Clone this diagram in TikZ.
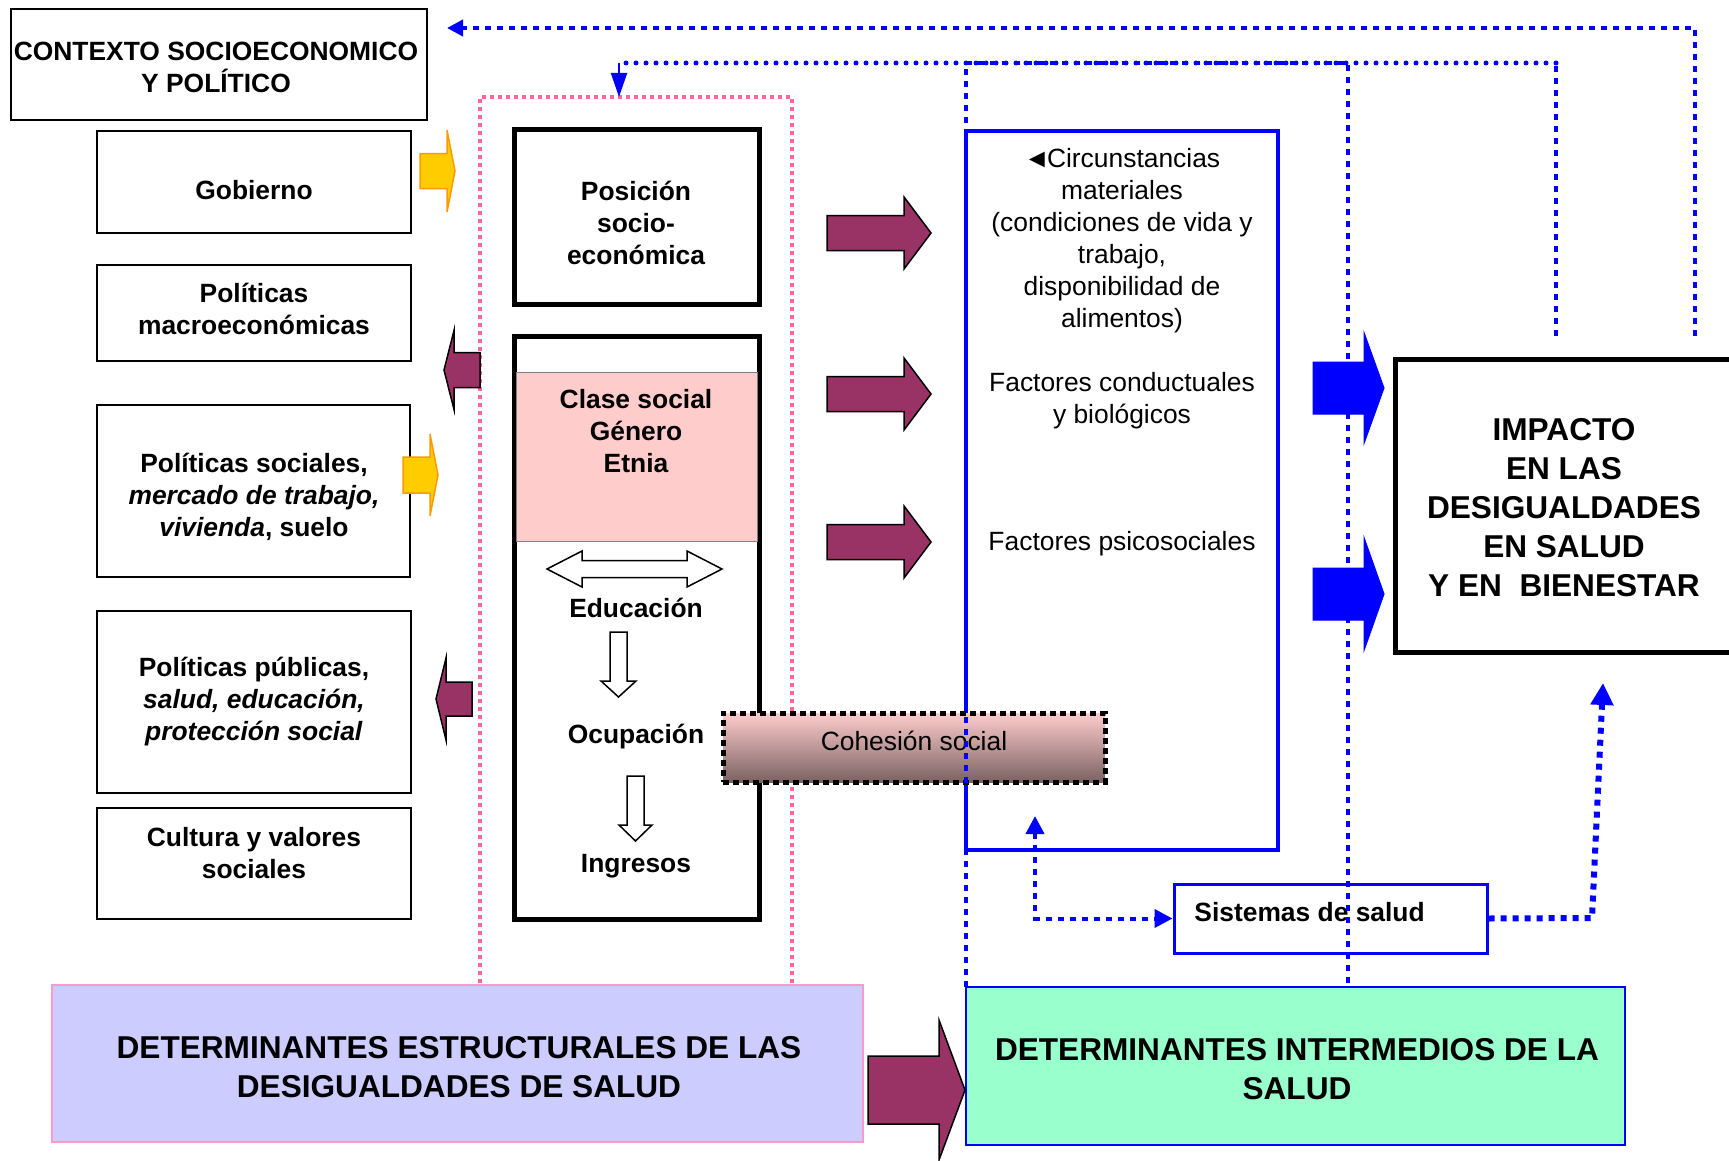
\documentclass[tikz,border=0pt]{standalone}
\usepackage{fontspec}
\setmainfont{Liberation Sans}
\usetikzlibrary{fit,arrows.meta}

\definecolor{morado}{RGB}{153,51,102}
\definecolor{amarillo}{RGB}{255,204,0}
\definecolor{naranja}{RGB}{255,153,0}
\definecolor{rosa}{RGB}{255,102,153}
\definecolor{rosaclaro}{RGB}{255,204,204}
\definecolor{lavanda}{RGB}{204,204,255}
\definecolor{bordelav}{RGB}{255,153,204}
\definecolor{verdeagua}{RGB}{153,255,204}
\definecolor{cafe}{RGB}{122,98,98}

% flecha de bloque: estilo, x cola, x base, x punta, y centro, medio cuerpo, media cabeza
\newcommand{\flechabloque}[7]{%
  \draw[#1] (#2,#5-#6) -- (#3,#5-#6) -- (#3,#5-#7) -- (#4,#5) -- (#3,#5+#7) -- (#3,#5+#6) -- (#2,#5+#6) -- cycle;}

\tikzset{
  texto/.style={font=\fontsize{13.2}{16}\selectfont, align=center, inner sep=0pt},
  negrita/.style={font=\fontsize{13.2}{16}\selectfont\bfseries, align=center, inner sep=0pt},
  negritagrande/.style={font=\fontsize{15.8}{19.5}\selectfont\bfseries, align=center, inner sep=0pt},
  caja/.style={draw, line width=1pt, inner sep=0pt},
  cajagruesa/.style={caja, line width=2.5pt},
  cajaazul/.style={draw=blue, line width=2.3pt, inner sep=0pt},
  cohesion/.style={draw=black, line width=2.5pt, dash pattern=on 3pt off 2pt, top color=rosaclaro, bottom color=cafe, inner sep=0pt},
  marcorosa/.style={draw=rosa, line width=2pt, dash pattern=on 2pt off 2pt},
  puntoazul/.style={draw=blue, line width=2pt, dash pattern=on 3pt off 3pt},
  bolitaazul/.style={draw=blue, line width=2.5pt, line cap=round, dash pattern=on 0pt off 5pt},
  flechamorada/.style={fill=morado, draw=black, line width=0.75pt},
  flechaamarilla/.style={fill=amarillo, draw=naranja, line width=0.75pt},
  flechaazul/.style={fill=blue, draw=blue, line width=0.5pt},
  hueca/.style={fill=white, draw=black, line width=0.75pt},
}

\begin{document}
\begin{tikzpicture}[x=0.5pt, y=-0.5pt]
\useasboundingbox (0,0) rectangle (1729,1161);

% Marco de los determinantes estructurales
\draw[marcorosa] (480,983) -- (480,97) -- (792,97) -- (792,983);

% Contexto y columna izquierda
\node[caja, line width=1.2pt, fit={(11,9) (427,120)}] (ctx) {};
\node[negrita] (ctxtxt) at (216,67) {CONTEXTO SOCIOECONOMICO\\Y POLÍTICO};
\node[caja, fit={(97,131) (411,233)}] (gob) {};
\node[negrita] (gobtxt) at (254,190) {Gobierno};
\node[caja, fit={(97,265) (411,361)}] (macro) {};
\node[negrita] (macrotxt) at (254,309) {Políticas\\macroeconómicas};
\node[caja, fit={(97,405) (410,577)}] (soc) {};
\node[negrita] (soctxt) at (254,497) {Políticas sociales,\\\textit{mercado de trabajo,}\\\textit{vivienda}, suelo};
\node[caja, fit={(97,611) (411,793)}] (pub) {};
\node[negrita] (pubtxt) at (254,702) {Políticas públicas,\\\textit{salud, educación,}\\\textit{protección social}};
\node[caja, fit={(97,808) (411,919)}] (cult) {};
\node[negrita] (culttxt) at (254,853) {Cultura y valores\\sociales};

% Flechas de la columna izquierda
\flechabloque{flechaamarilla}{420}{447}{455}{171}{17.5}{41}
\flechabloque{flechamorada}{480}{454}{444}{370}{17.5}{39.5}
\flechabloque{flechaamarilla}{403}{430}{438}{475}{18}{41}
\flechabloque{flechamorada}{472}{446}{436}{699}{17}{41}

% Posición socioeconómica
\node[cajagruesa, fit={(514,130) (759,304)}] (pos) {};
\node[negrita] (postxt) at (636,223) {Posición\\socio-\\económica};
\node[cajagruesa, fit={(514,336) (759,919)}] (estrat) {};
\node[fill=rosaclaro, draw=gray, line width=0.5pt, inner sep=0pt, fit={(516,372) (757,541)}] (rosa) {};
\node[negrita] (clase) at (636,431) {Clase social\\Género\\Etnia};
\draw[hueca] (547,569) -- (582,551) -- (582,560.5) -- (687,560.5) -- (687,551) -- (722,569)
  -- (687,587) -- (687,577.5) -- (582,577.5) -- (582,587) -- cycle;
\node[negrita] (edu) at (636,608) {Educación};
\draw[hueca] (610,632) -- (627,632) -- (627,681) -- (636,681) -- (618.5,697) -- (601,681) -- (610,681) -- cycle;
\node[negrita] (ocup) at (636,737) {Ocupación};
\draw[hueca] (627,776) -- (644,776) -- (644,825) -- (652,825) -- (635.5,841) -- (619,825) -- (627,825) -- cycle;
\node[negrita] (ingr) at (636,866) {Ingresos};

% Flechas hacia los determinantes intermedios
\flechabloque{flechamorada}{827}{904}{931}{233}{17.5}{36}
\flechabloque{flechamorada}{827}{904}{931}{394}{17.5}{36}
\flechabloque{flechamorada}{827}{904}{931}{542}{17.5}{36}

% Determinantes intermedios
\node[cajaazul, fit={(966,131) (1278,850)}] (inter) {};
\node[texto] (circ) at (1122,241) {◄\kern-1.5ptCircunstancias\\materiales\\(condiciones de vida y\\trabajo,\\disponibilidad de\\alimentos)};
\node[texto] (cond) at (1122,401) {Factores conductuales\\y biológicos};
\node[texto] (psico) at (1122,544) {Factores psicosociales};

% Cohesión social
\node[cohesion, fit={(723,713) (1105,782)}] (cohes) {};
\node[texto] (cohtxt) at (914,741) {Cohesión social};

% Sistemas de salud
\node[draw=blue, line width=1.5pt, inner sep=0pt, fit={(1174,884) (1487,953)}] (sist) {};
\node[negrita, anchor=west] (sisttxt) at (1194,912) {Sistemas de salud};

% Impacto
\draw[line width=2.5pt] (1729,359) -- (1395,359) -- (1395,652) -- (1729,652);
\node[negritagrande] (impacto) at (1564,508) {IMPACTO\\EN LAS\\DESIGUALDADES\\EN SALUD\\Y EN\ \ BIENESTAR};
\flechabloque{flechaazul}{1313}{1364}{1384}{388}{26}{55.5}
\flechabloque{flechaazul}{1313}{1364}{1384}{594}{26}{56.5}

% Marco de los determinantes intermedios
\draw[puntoazul] (966,987) -- (966,63) -- (1348,63) -- (1348,987);

% Conectores punteados
\coordinate (impA) at (1695,336);
\coordinate (ctxA) at (447,28);
\draw[puntoazul, -{Triangle[length=8pt,width=8pt]}] (impA) |- (ctxA);
\coordinate (impB) at (1556,336);
\coordinate (esqB) at (1556,63);
\coordinate (posB) at (619,63);
\coordinate (marcoB) at (619,97);
\draw[puntoazul] (impB) -- (esqB);
\draw[bolitaazul] (esqB) -- (posB);
\draw[blue, line width=1pt, -{Triangle[length=12pt,width=8pt]}] (posB) -- (marcoB);

\coordinate (cohA) at (1035,816);
\draw[puntoazul, {Triangle[length=9pt,width=9pt]}-{Triangle[length=9pt,width=9pt]}] (cohA) |- (sist.west);
\coordinate (esqC) at (1592,918);
\coordinate (impC) at (1603,683);
\draw[puntoazul, line width=3pt, -{Triangle[length=11pt,width=11pt]}] (sist.east) -- (esqC) -- (impC);

% Determinantes de abajo
\node[fill=lavanda, draw=bordelav, line width=1pt, inner sep=0pt, fit={(52,985) (863,1142)}] (estruct) {};
\node[negritagrande] (estructtxt) at (459,1067) {DETERMINANTES ESTRUCTURALES DE LAS\\DESIGUALDADES DE SALUD};
\node[fill=verdeagua, draw=blue, line width=1.2pt, inner sep=0pt, fit={(966,987) (1625,1145)}] (intermed) {};
\node[negritagrande] (intermedtxt) at (1297,1069) {DETERMINANTES INTERMEDIOS DE LA\\SALUD};
\flechabloque{flechamorada}{868}{939}{965}{1090}{34}{70}

\end{tikzpicture}
\end{document}
